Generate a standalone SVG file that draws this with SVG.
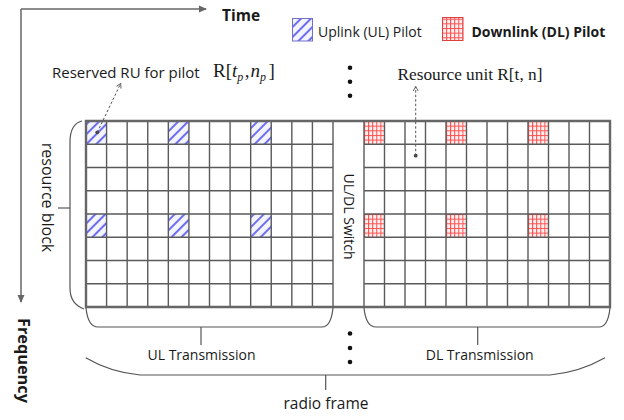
<svg xmlns="http://www.w3.org/2000/svg" width="624" height="420" viewBox="0 0 624 420">
<style>
.sans{font-family:"Open Sans","Liberation Sans",sans-serif;fill:#1a1a1a}
.serif{font-family:"Liberation Serif","Times New Roman",serif;fill:#1a1a1a}
.g{stroke:#5a5a5a;stroke-width:1.4;fill:none}
.outer{stroke:#666;stroke-width:2.4;fill:none}
.brace{stroke:#555;stroke-width:1.2;fill:none}
.ax{stroke:#666;stroke-width:1.5;fill:none}
.dash{stroke:#555;stroke-width:1;fill:none;stroke-dasharray:2.5,2}
</style>
<defs>
<pattern id="ul" patternUnits="userSpaceOnUse" width="7" height="7" patternTransform="rotate(45)">
<rect width="7" height="7" fill="#f4f4ff"/>
<line x1="2" y1="0" x2="2" y2="7" stroke="#6e6ef0" stroke-width="2"/>
</pattern>
<pattern id="dl" patternUnits="userSpaceOnUse" width="4.1" height="4.65" x="364" y="121">
<rect width="4.1" height="4.65" fill="#fff0f0"/>
<line x1="0.5" y1="0" x2="0.5" y2="4.65" stroke="#ff5050" stroke-width="1"/>
<line x1="0" y1="0.5" x2="4.1" y2="0.5" stroke="#ff5050" stroke-width="1"/>
</pattern>
<marker id="ah" markerWidth="8" markerHeight="8" refX="7" refY="4" orient="auto" markerUnits="userSpaceOnUse">
<path d="M0,0.5 L8,4 L0,7.5 Z" fill="#666"/>
</marker>
<marker id="oh" markerWidth="6" markerHeight="6" refX="5" refY="3" orient="auto" markerUnits="userSpaceOnUse">
<path d="M0.5,0.5 L5,3 L0.5,5.5" fill="none" stroke="#555" stroke-width="0.9"/>
</marker>
</defs>

<g id="axes">
<path class="ax" d="M21,9 L206,9" marker-end="url(#ah)"/>
<path class="ax" d="M21,9 L21,302" marker-end="url(#ah)"/>
<text class="sans" x="222" y="21" font-size="15.5" font-weight="bold">Time</text>
<text class="sans" x="18" y="318" font-size="16.3" font-weight="bold" transform="rotate(90 18 318)">Frequency</text>
</g>

<g id="legend">
<rect x="292.5" y="18.5" width="20" height="22.5" fill="url(#ul)" stroke="#7070c8" stroke-width="1"/>
<text class="sans" x="318" y="36.5" font-size="14">Uplink (UL) Pilot</text>
<rect x="442.5" y="17.5" width="20.5" height="23" fill="url(#dl)" stroke="#e04040" stroke-width="1"/>
<text class="sans" x="471.5" y="36.5" font-size="14" font-weight="bold">Downlink (DL) Pilot</text>
</g>

<g id="grid">
<rect x="86" y="121" width="20.58" height="23.25" fill="url(#ul)"/>
<rect x="168.3" y="121" width="20.58" height="23.25" fill="url(#ul)"/>
<rect x="250.7" y="121" width="20.58" height="23.25" fill="url(#ul)"/>
<rect x="86" y="214" width="20.58" height="23.25" fill="url(#ul)"/>
<rect x="168.3" y="214" width="20.58" height="23.25" fill="url(#ul)"/>
<rect x="250.7" y="214" width="20.58" height="23.25" fill="url(#ul)"/>
<rect x="364" y="121" width="20.5" height="23.25" fill="url(#dl)"/>
<rect x="446" y="121" width="20.5" height="23.25" fill="url(#dl)"/>
<rect x="528" y="121" width="20.5" height="23.25" fill="url(#dl)"/>
<rect x="364" y="214" width="20.5" height="23.25" fill="url(#dl)"/>
<rect x="446" y="214" width="20.5" height="23.25" fill="url(#dl)"/>
<rect x="528" y="214" width="20.5" height="23.25" fill="url(#dl)"/>
<path class="g" d="M106.58,121V307M127.17,121V307M147.75,121V307M168.33,121V307M188.92,121V307M209.5,121V307M230.08,121V307M250.67,121V307M271.25,121V307M291.83,121V307M312.42,121V307M333,121V307
M364,121V307M384.5,121V307M405,121V307M425.5,121V307M446,121V307M466.5,121V307M487,121V307M507.5,121V307M528,121V307M548.5,121V307M569,121V307M589.5,121V307
M86,144.25H333M86,167.5H333M86,190.75H333M86,214H333M86,237.25H333M86,260.5H333M86,283.75H333
M364,144.25H610M364,167.5H610M364,190.75H610M364,214H610M364,237.25H610M364,260.5H610M364,283.75H610"/>
<path class="outer" d="M86,121H610V307H86Z"/>
</g>

<g id="switch">
<text class="sans" x="343.5" y="216.5" font-size="14" text-anchor="middle" transform="rotate(90 343.5 216.5)">UL/DL Switch</text>
</g>

<g id="dots">
<circle cx="350" cy="67.7" r="2.3" fill="#111"/>
<circle cx="350" cy="81.7" r="2.3" fill="#111"/>
<circle cx="350" cy="95.7" r="2.3" fill="#111"/>
<circle cx="350" cy="333.5" r="2.3" fill="#111"/>
<circle cx="350" cy="348" r="2.3" fill="#111"/>
<circle cx="350" cy="362" r="2.3" fill="#111"/>
</g>

<g id="annotations">
<text class="sans" x="52" y="77.5" font-size="15">Reserved RU for pilot</text>
<text class="serif" x="213" y="77" font-size="19">R[<tspan font-style="italic">t</tspan><tspan font-style="italic" font-size="12" dy="4">p</tspan><tspan dy="-4" dx="1.5">,</tspan><tspan font-style="italic" dx="1">n</tspan><tspan font-style="italic" font-size="12" dy="4">p</tspan><tspan dy="-4" dx="2.5">]</tspan></text>
<circle cx="97.3" cy="132.3" r="1.9" fill="#444"/>
<path class="dash" d="M97.3,132.3 L120.7,83.5" marker-end="url(#oh)"/>
<text class="serif" x="397.5" y="80" font-size="17.3">Resource unit R[t, n]</text>
<circle cx="415.7" cy="155.7" r="1.9" fill="#444"/>
<path class="dash" d="M415.7,155.7 L415.7,86.5" marker-end="url(#oh)"/>
</g>

<g id="braces">
<path class="brace" d="M82,121 Q70,124 70,142 L70,288 Q70,304 84,309"/>
<path class="brace" d="M58,208 H70"/>
<text class="sans" x="41.5" y="197.5" font-size="16" text-anchor="middle" transform="rotate(90 41.5 197.5)">resource block</text>

<path class="brace" d="M86,308 Q88,327 98,327 L322,327 Q331,327 333,308"/>
<path class="brace" d="M201,327 V345"/>
<text class="sans" x="201.5" y="359.5" font-size="14" text-anchor="middle">UL Transmission</text>

<path class="brace" d="M364,308 Q366,327 376,327 L599,327 Q608,327 610,308"/>
<path class="brace" d="M477.7,327 V345"/>
<text class="sans" x="479.7" y="359.5" font-size="14" text-anchor="middle">DL Transmission</text>

<path class="brace" d="M85.7,357.7 Q110,372 140,375 L550,375 Q580,372 605,357.7"/>
<path class="brace" d="M325.7,375 V390"/>
<text class="sans" x="326" y="408.5" font-size="15.5" text-anchor="middle">radio frame</text>
</g>
</svg>
